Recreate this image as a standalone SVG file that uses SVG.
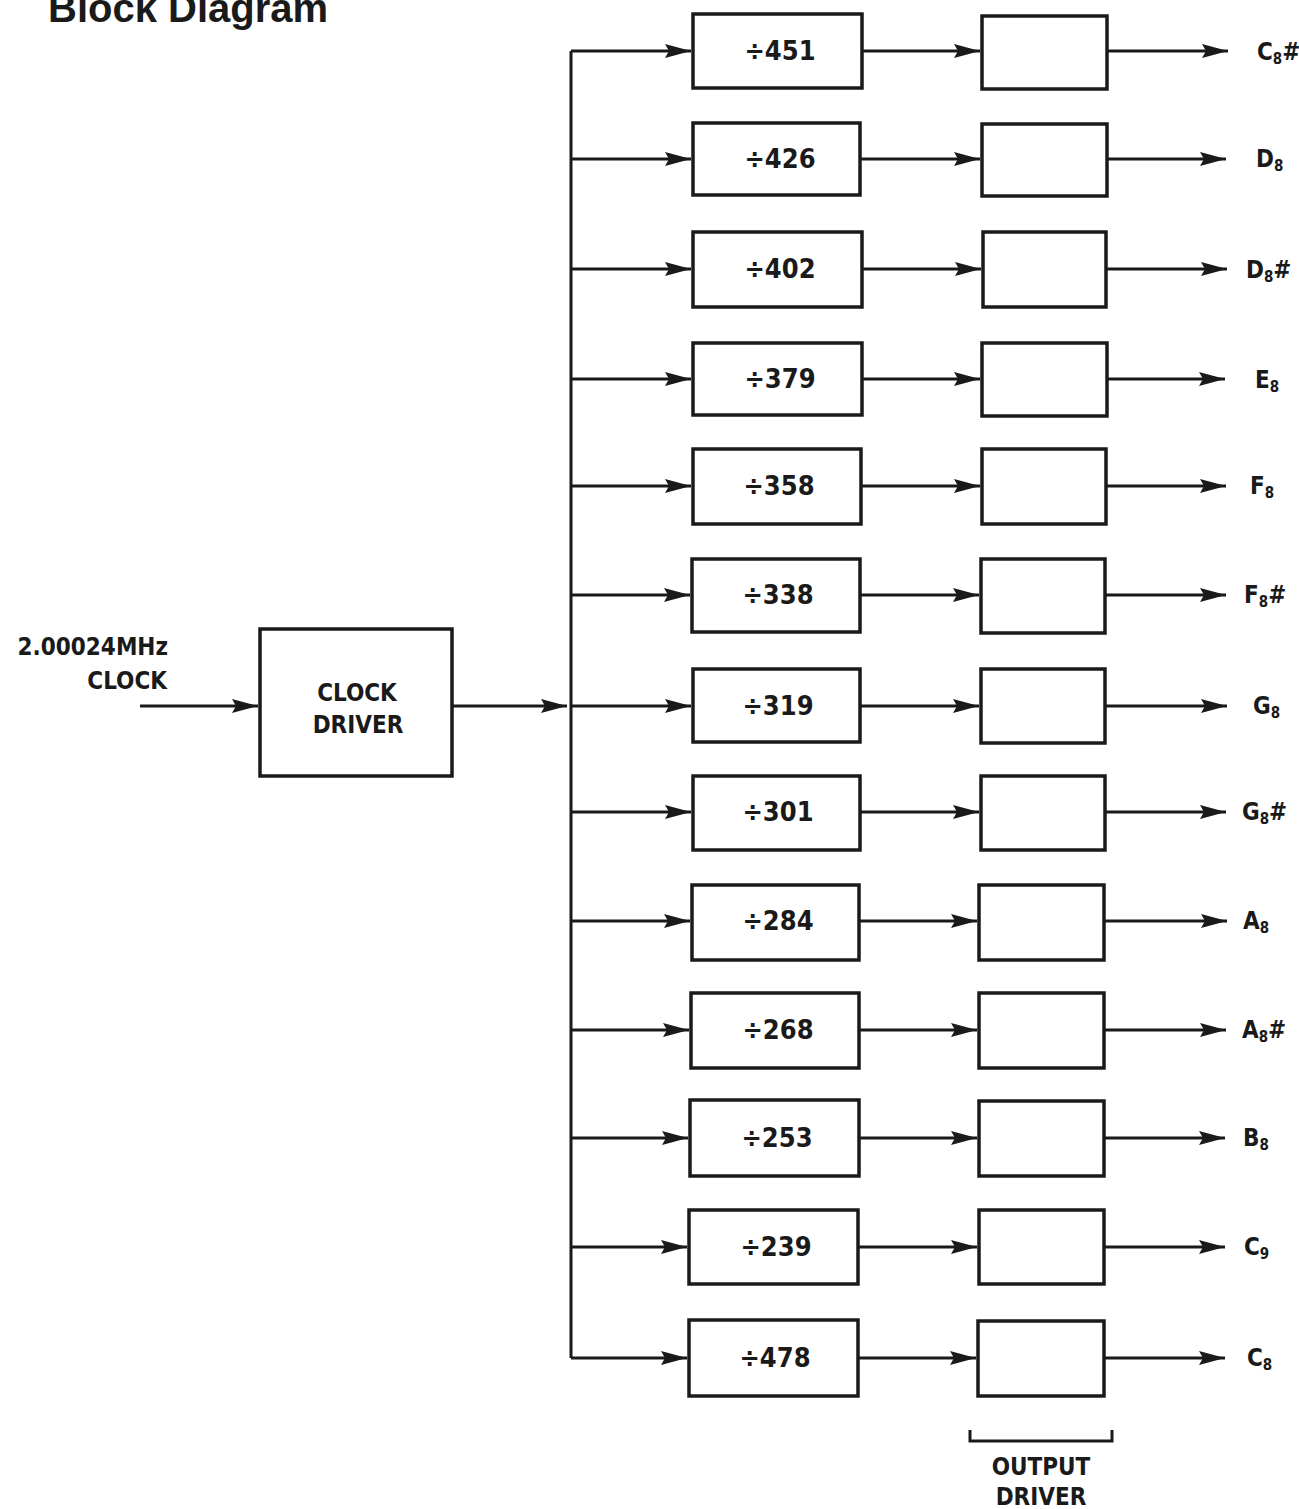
<svg xmlns="http://www.w3.org/2000/svg" width="1299" height="1509" viewBox="0 0 1299 1509">
<style>
.bg{fill:#ffffff}
.box{fill:#ffffff;stroke:#1a1a1a;stroke-width:3.5}
.ln{fill:none;stroke:#1a1a1a;stroke-width:3}
.t{font-family:"Liberation Sans Narrow","DejaVu Sans Condensed","Liberation Sans",sans-serif;font-weight:bold;fill:#1a1a1a;font-stretch:condensed}
.div{font-size:27px;text-anchor:middle}
.lab{font-size:24px}
.sub{font-size:15px}
.title{font-family:"Liberation Sans",Arial,sans-serif;font-weight:bold;font-size:40px;fill:#1a1a1a}
</style>
<defs>
<marker id="ah" markerUnits="userSpaceOnUse" markerWidth="26" markerHeight="14" refX="26" refY="7" orient="auto">
<path d="M0,0 L26,7 L0,14 L4,7 Z" fill="#1a1a1a"/>
</marker>
</defs>
<rect class="bg" x="0" y="0" width="1299" height="1509"/>
<text class="title" x="48" y="22">Block Diagram</text>

<g id="clock-input">
<text class="t lab" x="168" y="655" text-anchor="end" font-size="25">2.00024MHz</text>
<text class="t lab" x="167" y="689" text-anchor="end" font-size="25">CLOCK</text>
</g>
<g id="clock-driver">
<rect class="box" x="260" y="629" width="192" height="147"/>
<text class="t lab" x="357" y="701" text-anchor="middle" font-size="26">CLOCK</text>
<text class="t lab" x="358" y="733" text-anchor="middle" font-size="26">DRIVER</text>
</g>

<g id="connectors">
<line class="ln" x1="140" y1="706" x2="258" y2="706" marker-end="url(#ah)"/>
<line class="ln" x1="452" y1="706" x2="567" y2="706" marker-end="url(#ah)"/>
<line class="ln" x1="571" y1="51" x2="571" y2="1358"/>
<line class="ln" x1="571" y1="51" x2="691" y2="51" marker-end="url(#ah)"/>
<line class="ln" x1="571" y1="159" x2="691" y2="159" marker-end="url(#ah)"/>
<line class="ln" x1="571" y1="269" x2="691" y2="269" marker-end="url(#ah)"/>
<line class="ln" x1="571" y1="379" x2="691" y2="379" marker-end="url(#ah)"/>
<line class="ln" x1="571" y1="486" x2="691" y2="486" marker-end="url(#ah)"/>
<line class="ln" x1="571" y1="595" x2="690" y2="595" marker-end="url(#ah)"/>
<line class="ln" x1="571" y1="706" x2="691" y2="706" marker-end="url(#ah)"/>
<line class="ln" x1="571" y1="812" x2="691" y2="812" marker-end="url(#ah)"/>
<line class="ln" x1="571" y1="921" x2="690" y2="921" marker-end="url(#ah)"/>
<line class="ln" x1="571" y1="1030" x2="689" y2="1030" marker-end="url(#ah)"/>
<line class="ln" x1="571" y1="1138" x2="688" y2="1138" marker-end="url(#ah)"/>
<line class="ln" x1="571" y1="1247" x2="687" y2="1247" marker-end="url(#ah)"/>
<line class="ln" x1="571" y1="1358" x2="687" y2="1358" marker-end="url(#ah)"/>
<line class="ln" x1="862" y1="51" x2="980" y2="51" marker-end="url(#ah)"/>
<line class="ln" x1="860" y1="159" x2="980" y2="159" marker-end="url(#ah)"/>
<line class="ln" x1="862" y1="269" x2="981" y2="269" marker-end="url(#ah)"/>
<line class="ln" x1="862" y1="379" x2="980" y2="379" marker-end="url(#ah)"/>
<line class="ln" x1="861" y1="486" x2="980" y2="486" marker-end="url(#ah)"/>
<line class="ln" x1="860" y1="595" x2="979" y2="595" marker-end="url(#ah)"/>
<line class="ln" x1="860" y1="706" x2="979" y2="706" marker-end="url(#ah)"/>
<line class="ln" x1="860" y1="812" x2="979" y2="812" marker-end="url(#ah)"/>
<line class="ln" x1="859" y1="921" x2="977" y2="921" marker-end="url(#ah)"/>
<line class="ln" x1="859" y1="1030" x2="977" y2="1030" marker-end="url(#ah)"/>
<line class="ln" x1="859" y1="1138" x2="977" y2="1138" marker-end="url(#ah)"/>
<line class="ln" x1="858" y1="1247" x2="977" y2="1247" marker-end="url(#ah)"/>
<line class="ln" x1="858" y1="1358" x2="976" y2="1358" marker-end="url(#ah)"/>
<line class="ln" x1="1107" y1="51" x2="1228" y2="51" marker-end="url(#ah)"/>
<line class="ln" x1="1107" y1="159" x2="1226" y2="159" marker-end="url(#ah)"/>
<line class="ln" x1="1106" y1="269" x2="1227" y2="269" marker-end="url(#ah)"/>
<line class="ln" x1="1107" y1="379" x2="1225" y2="379" marker-end="url(#ah)"/>
<line class="ln" x1="1106" y1="486" x2="1226" y2="486" marker-end="url(#ah)"/>
<line class="ln" x1="1105" y1="595" x2="1226" y2="595" marker-end="url(#ah)"/>
<line class="ln" x1="1105" y1="706" x2="1227" y2="706" marker-end="url(#ah)"/>
<line class="ln" x1="1105" y1="812" x2="1226" y2="812" marker-end="url(#ah)"/>
<line class="ln" x1="1104" y1="921" x2="1227" y2="921" marker-end="url(#ah)"/>
<line class="ln" x1="1104" y1="1030" x2="1226" y2="1030" marker-end="url(#ah)"/>
<line class="ln" x1="1104" y1="1138" x2="1225" y2="1138" marker-end="url(#ah)"/>
<line class="ln" x1="1104" y1="1247" x2="1225" y2="1247" marker-end="url(#ah)"/>
<line class="ln" x1="1104" y1="1358" x2="1225" y2="1358" marker-end="url(#ah)"/>
</g>

<g id="div-451"><rect class="box" x="693" y="14" width="169" height="74"/><text class="t div" x="780" y="60">÷451</text></g>
<g id="div-426"><rect class="box" x="693" y="123" width="167" height="72"/><text class="t div" x="780" y="168">÷426</text></g>
<g id="div-402"><rect class="box" x="693" y="232" width="169" height="75"/><text class="t div" x="780" y="278">÷402</text></g>
<g id="div-379"><rect class="box" x="693" y="343" width="169" height="72"/><text class="t div" x="780" y="388">÷379</text></g>
<g id="div-358"><rect class="box" x="693" y="449" width="168" height="75"/><text class="t div" x="779" y="495">÷358</text></g>
<g id="div-338"><rect class="box" x="692" y="559" width="168" height="73"/><text class="t div" x="778" y="604">÷338</text></g>
<g id="div-319"><rect class="box" x="693" y="669" width="167" height="73"/><text class="t div" x="778" y="715">÷319</text></g>
<g id="div-301"><rect class="box" x="693" y="776" width="167" height="74"/><text class="t div" x="778" y="821">÷301</text></g>
<g id="div-284"><rect class="box" x="692" y="885" width="167" height="75"/><text class="t div" x="778" y="930">÷284</text></g>
<g id="div-268"><rect class="box" x="691" y="993" width="168" height="75"/><text class="t div" x="778" y="1039">÷268</text></g>
<g id="div-253"><rect class="box" x="690" y="1100" width="169" height="76"/><text class="t div" x="777" y="1147">÷253</text></g>
<g id="div-239"><rect class="box" x="689" y="1210" width="169" height="74"/><text class="t div" x="776" y="1256">÷239</text></g>
<g id="div-478"><rect class="box" x="689" y="1320" width="169" height="76"/><text class="t div" x="775" y="1367">÷478</text></g>

<g id="out-1"><rect class="box" x="982" y="16" width="125" height="73"/></g>
<g id="out-2"><rect class="box" x="982" y="124" width="125" height="72"/></g>
<g id="out-3"><rect class="box" x="983" y="232" width="123" height="75"/></g>
<g id="out-4"><rect class="box" x="982" y="343" width="125" height="73"/></g>
<g id="out-5"><rect class="box" x="982" y="449" width="124" height="75"/></g>
<g id="out-6"><rect class="box" x="981" y="559" width="124" height="74"/></g>
<g id="out-7"><rect class="box" x="981" y="669" width="124" height="74"/></g>
<g id="out-8"><rect class="box" x="981" y="776" width="124" height="74"/></g>
<g id="out-9"><rect class="box" x="979" y="885" width="125" height="75"/></g>
<g id="out-10"><rect class="box" x="979" y="993" width="125" height="75"/></g>
<g id="out-11"><rect class="box" x="979" y="1101" width="125" height="75"/></g>
<g id="out-12"><rect class="box" x="979" y="1210" width="125" height="74"/></g>
<g id="out-13"><rect class="box" x="978" y="1321" width="126" height="75"/></g>

<g id="labels">
<text class="t lab" x="1257" y="60">C<tspan class="sub" dy="4">8</tspan><tspan dy="-4">#</tspan></text>
<text class="t lab" x="1256" y="167">D<tspan class="sub" dy="4">8</tspan></text>
<text class="t lab" x="1246" y="278">D<tspan class="sub" dy="4">8</tspan><tspan dy="-4">#</tspan></text>
<text class="t lab" x="1255" y="388">E<tspan class="sub" dy="4">8</tspan></text>
<text class="t lab" x="1250" y="494">F<tspan class="sub" dy="4">8</tspan></text>
<text class="t lab" x="1244" y="603">F<tspan class="sub" dy="4">8</tspan><tspan dy="-4">#</tspan></text>
<text class="t lab" x="1253" y="714">G<tspan class="sub" dy="4">8</tspan></text>
<text class="t lab" x="1242" y="820">G<tspan class="sub" dy="4">8</tspan><tspan dy="-4">#</tspan></text>
<text class="t lab" x="1243" y="929">A<tspan class="sub" dy="4">8</tspan></text>
<text class="t lab" x="1242" y="1038">A<tspan class="sub" dy="4">8</tspan><tspan dy="-4">#</tspan></text>
<text class="t lab" x="1243" y="1146">B<tspan class="sub" dy="4">8</tspan></text>
<text class="t lab" x="1244" y="1255">C<tspan class="sub" dy="4">9</tspan></text>
<text class="t lab" x="1247" y="1366">C<tspan class="sub" dy="4">8</tspan></text>
</g>

<g id="output-driver-bracket">
<path class="ln" d="M970,1430 L970,1441 L1112,1441 L1112,1430"/>
<text class="t lab" x="1041" y="1475" text-anchor="middle" font-size="25">OUTPUT</text>
<text class="t lab" x="1041" y="1505" text-anchor="middle" font-size="25">DRIVER</text>
</g>
</svg>
